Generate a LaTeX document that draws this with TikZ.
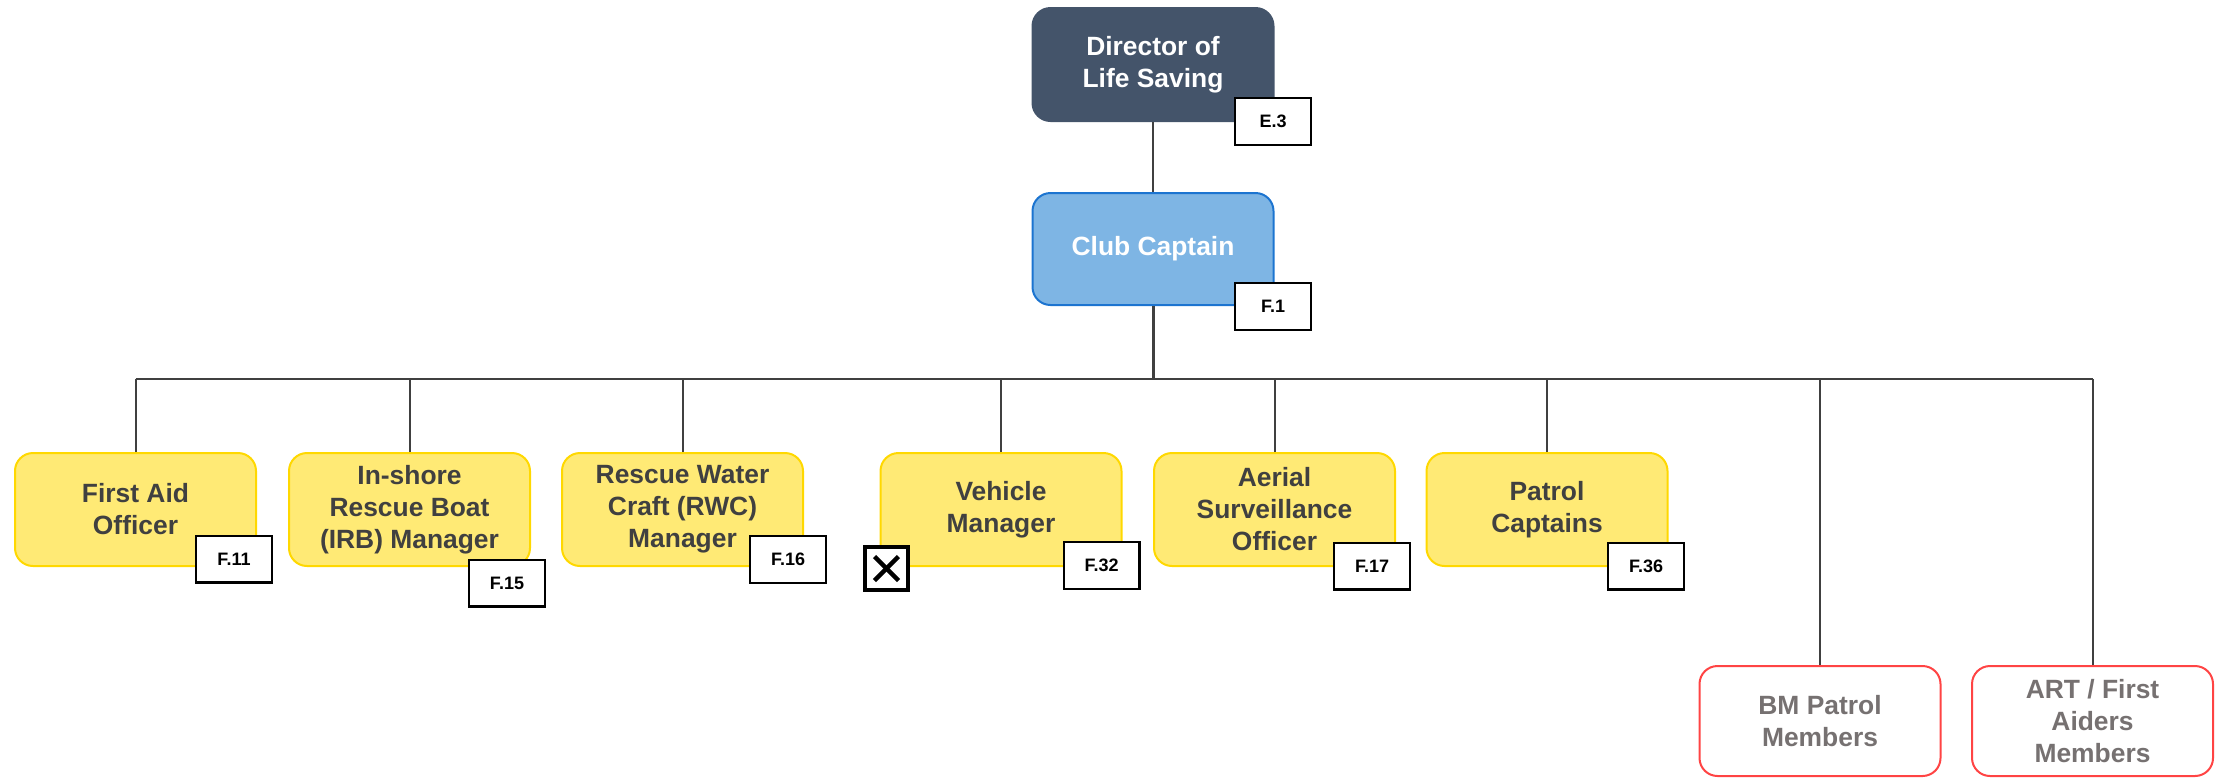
\documentclass[tikz,border=0pt]{standalone}
\usepackage{fontspec}
\setmainfont{Liberation Sans}
\definecolor{dirfill}{HTML}{44546A}
\definecolor{capfill}{HTML}{7EB5E4}
\definecolor{capline}{HTML}{1C74D0}
\definecolor{yfill}{HTML}{FFEA75}
\definecolor{yline}{HTML}{FFD800}
\definecolor{rline}{HTML}{FF4444}
\definecolor{rtext}{HTML}{767171}
\definecolor{txtgray}{HTML}{404040}
\definecolor{linegray}{HTML}{404040}
\begin{document}
\begin{tikzpicture}[x=0.5pt,y=-0.5pt,
  box/.style={rectangle, rounded corners=9pt, minimum width=120.5pt, minimum height=56.5pt,
    align=center, inner sep=2pt, line width=1pt,
    font=\fontsize{13.2}{16}\selectfont\bfseries},
  dirbox/.style={box, fill=dirfill, draw=dirfill, text=white},
  capbox/.style={box, fill=capfill, draw=capline, text=white},
  ybox/.style={box, fill=yfill, draw=yline, text=txtgray},
  rbox/.style={box, fill=white, draw=rline, text=rtext},
  lbl/.style={rectangle, draw=black, fill=white, line width=1.2pt,
    minimum width=37.8pt, minimum height=23.3pt, inner sep=0pt,
    font=\fontsize{9}{10}\selectfont\bfseries},
  xbox/.style={rectangle, draw=black, fill=white, line width=2pt,
    minimum width=21.5pt, minimum height=21.5pt, inner sep=0pt},
  conn/.style={draw=linegray, line width=1pt}
]
\useasboundingbox (0,0) rectangle (2215,778);

% main boxes
\node[dirbox] (dir) at (1153,64.5) {Director of\\Life Saving};
\node[capbox, minimum height=56pt] (cap) at (1153,249) {Club Captain};

\node[ybox] (fa)  at (135.5,509.5)  {First Aid\\Officer};
\node[ybox] (irb) at (409.5,509.5)  {In-shore\\Rescue Boat\\(IRB) Manager};
\node[ybox] (rwc) at (682.5,509.5)  {Rescue Water\\Craft (RWC)\\Manager};
\node[ybox] (veh) at (1001,509.5)   {Vehicle\\Manager};
\node[ybox] (aer) at (1274.5,509.5) {Aerial\\Surveillance\\Officer};
\node[ybox] (pat) at (1547,509.5)   {Patrol\\Captains};

\node[rbox, minimum height=55pt] (bm)  at (1820,721)   {BM Patrol\\Members};
\node[rbox, minimum height=55pt] (art) at (2092.5,721) {ART / First\\Aiders\\Members};

% connectors
\coordinate (bus) at (0,379);
\draw[conn] (dir.south) -- (cap.north);
\draw[conn, line width=1.5pt] (cap.south) -- (cap.south |- bus);
\draw[conn, line width=1.2pt] (fa.north |- bus) -- (art.north |- bus);
\foreach \n in {fa,irb,rwc,veh,aer,pat,bm,art}
  \draw[conn] (\n.north) -- (\n.north |- bus);

% code labels
\node[lbl] (le3)  at (1273,121.5)  {E.3};
\node[lbl] (lf1)  at (1273,306.5)  {F.1};
\node[lbl] (lf11) at (234,559)     {F.11};
\node[lbl] (lf15) at (507,583)     {F.15};
\node[lbl] (lf16) at (788,559.5)   {F.16};
\node[lbl] (lf32) at (1101.5,565.5){F.32};
\node[lbl] (lf17) at (1372,566)    {F.17};
\node[lbl] (lf36) at (1646,566)    {F.36};

% cross box
\node[xbox] (xv) at (886.5,568.5) {};
\draw[line width=2.2pt, black] ([shift={(-6pt,-6pt)}]xv.center) -- ([shift={(6pt,6pt)}]xv.center);
\draw[line width=2.2pt, black] ([shift={(-6pt,6pt)}]xv.center) -- ([shift={(6pt,-6pt)}]xv.center);
\end{tikzpicture}
\end{document}
